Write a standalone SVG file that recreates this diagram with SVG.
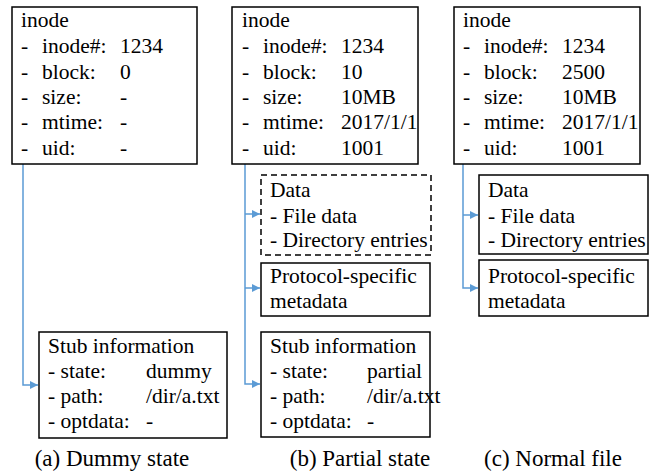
<svg xmlns="http://www.w3.org/2000/svg" width="652" height="473" viewBox="0 0 652 473">
  <style>
    .cap { font-size: 23px; text-anchor: middle; }
    .box { fill: #fff; stroke: #000; stroke-width: 1.5; }
    .dash { stroke-dasharray: 6 4; }
    .link { fill: none; stroke: #5b9bd5; stroke-width: 1.5; }
  </style>
  <defs>
    <marker id="arrow" viewBox="0 0 10 10" refX="10" refY="5" markerWidth="8" markerHeight="8" markerUnits="userSpaceOnUse" orient="auto">
      <path d="M0,0 L10,5 L0,10 z" fill="#5b9bd5"/>
    </marker>
  </defs>

  <rect width="652" height="473" fill="#fff"/>

  <!-- connectors -->
  <g id="connectors">
    <path class="link" d="M23,164 V385 H38" marker-end="url(#arrow)"/>
    <path class="link" d="M245,164 V384 H260" marker-end="url(#arrow)"/>
    <path class="link" d="M245,214 H260" marker-end="url(#arrow)"/>
    <path class="link" d="M245,288 H260" marker-end="url(#arrow)"/>
    <path class="link" d="M463,164 V288 H478" marker-end="url(#arrow)"/>
    <path class="link" d="M463,215 H478" marker-end="url(#arrow)"/>
  </g>

  <g font-family="'Liberation Serif', serif" font-size="21.5" fill="#000">
    <!-- (a) dummy state -->
    <g id="inode-a">
      <rect class="box" x="12" y="7" width="185" height="157"/>
      <text x="21" y="27">inode</text>
      <text x="21" y="53">-</text><text x="42" y="53">inode#:</text><text x="120" y="53">1234</text>
      <text x="21" y="79">-</text><text x="42" y="79">block:</text><text x="120" y="79">0</text>
      <text x="21" y="104">-</text><text x="42" y="104">size:</text><text x="120" y="104">-</text>
      <text x="21" y="129">-</text><text x="42" y="129">mtime:</text><text x="120" y="129">-</text>
      <text x="21" y="155">-</text><text x="42" y="155">uid:</text><text x="120" y="155">-</text>
    </g>
    <g id="stub-a">
      <rect class="box" x="39" y="332" width="188" height="106"/>
      <text x="48" y="353">Stub information</text>
      <text x="48" y="378">- state:</text><text x="146" y="378">dummy</text>
      <text x="48" y="403">- path:</text><text x="146" y="403">/dir/a.txt</text>
      <text x="48" y="428">- optdata:</text><text x="146" y="428">-</text>
    </g>

    <!-- (b) partial state -->
    <g id="inode-b">
      <rect class="box" x="232" y="7" width="186" height="157"/>
      <text x="242" y="27">inode</text>
      <text x="242" y="53">-</text><text x="263" y="53">inode#:</text><text x="341" y="53">1234</text>
      <text x="242" y="79">-</text><text x="263" y="79">block:</text><text x="341" y="79">10</text>
      <text x="242" y="104">-</text><text x="263" y="104">size:</text><text x="341" y="104">10MB</text>
      <text x="242" y="129">-</text><text x="263" y="129">mtime:</text><text x="341" y="129">2017/1/1</text>
      <text x="242" y="155">-</text><text x="263" y="155">uid:</text><text x="341" y="155">1001</text>
    </g>
    <g id="data-b">
      <rect class="box dash" x="261" y="175" width="170" height="80"/>
      <text x="270" y="197">Data</text>
      <text x="270" y="223">- File data</text>
      <text x="270" y="247">- Directory entries</text>
    </g>
    <g id="proto-b">
      <rect class="box" x="261" y="263" width="169" height="53"/>
      <text x="270" y="283">Protocol-specific</text>
      <text x="270" y="308">metadata</text>
    </g>
    <g id="stub-b">
      <rect class="box" x="261" y="332" width="169" height="105"/>
      <text x="270" y="353">Stub information</text>
      <text x="270" y="378">- state:</text><text x="367" y="378">partial</text>
      <text x="270" y="403">- path:</text><text x="367" y="403">/dir/a.txt</text>
      <text x="270" y="428">- optdata:</text><text x="367" y="428">-</text>
    </g>

    <!-- (c) normal file -->
    <g id="inode-c">
      <rect class="box" x="454" y="7" width="186" height="157"/>
      <text x="463" y="27">inode</text>
      <text x="463" y="53">-</text><text x="484" y="53">inode#:</text><text x="562" y="53">1234</text>
      <text x="463" y="79">-</text><text x="484" y="79">block:</text><text x="562" y="79">2500</text>
      <text x="463" y="104">-</text><text x="484" y="104">size:</text><text x="562" y="104">10MB</text>
      <text x="463" y="129">-</text><text x="484" y="129">mtime:</text><text x="562" y="129">2017/1/1</text>
      <text x="463" y="155">-</text><text x="484" y="155">uid:</text><text x="562" y="155">1001</text>
    </g>
    <g id="data-c">
      <rect class="box" x="479" y="175" width="169" height="79"/>
      <text x="488" y="197">Data</text>
      <text x="488" y="223">- File data</text>
      <text x="488" y="247">- Directory entries</text>
    </g>
    <g id="proto-c">
      <rect class="box" x="479" y="260" width="169" height="56"/>
      <text x="488" y="283">Protocol-specific</text>
      <text x="488" y="308">metadata</text>
    </g>

    <!-- captions -->
    <text class="cap" x="112" y="466">(a) Dummy state</text>
    <text class="cap" x="360" y="466">(b) Partial state</text>
    <text class="cap" x="553" y="466">(c) Normal file</text>
  </g>
</svg>
